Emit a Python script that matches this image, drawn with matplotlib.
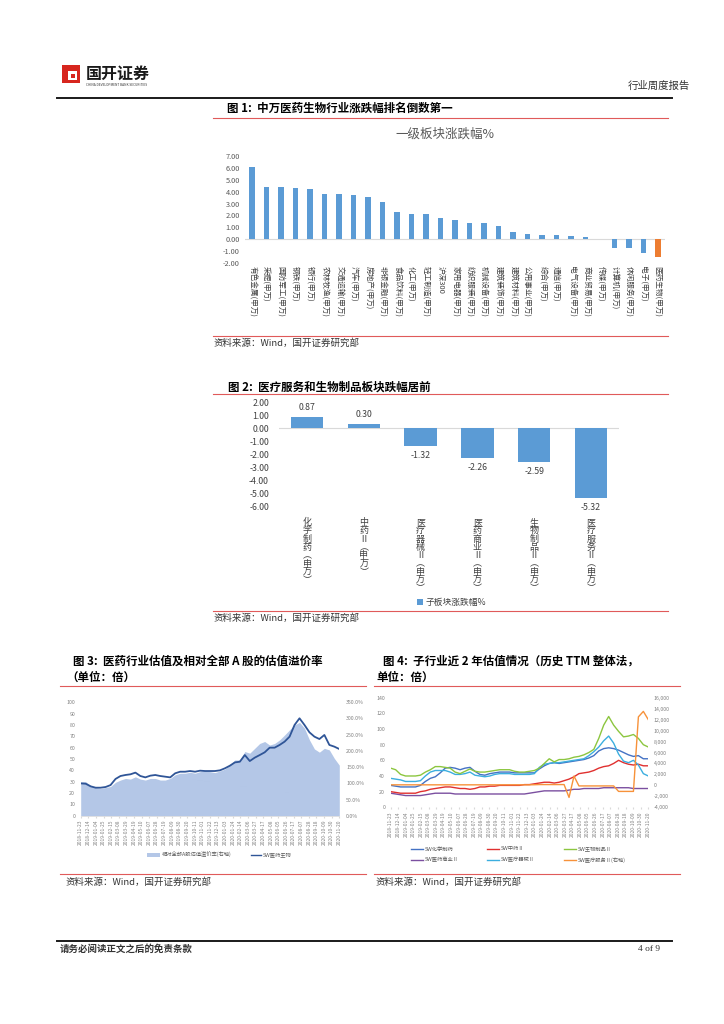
import numpy as np
import pandas as pd
import matplotlib
matplotlib.use("Agg")
import matplotlib.pyplot as plt
from matplotlib.lines import Line2D
from matplotlib.patches import Rectangle

plt.rcParams['font.family'] = ['Noto Sans CJK SC', 'DejaVu Sans']
plt.rcParams['axes.unicode_minus'] = False

W, H = 724, 1024

# ---- figure 1: level-1 sector weekly change (%)
sector_names = ["有色金属(申万)", "采掘(申万)", "国防军工(申万)", "钢铁(申万)", "银行(申万)",
                "农林牧渔(申万)", "交通运输(申万)", "汽车(申万)", "房地产(申万)", "非银金融(申万)",
                "食品饮料(申万)", "化工(申万)", "轻工制造(申万)", "沪深300", "家用电器(申万)",
                "纺织服装(申万)", "机械设备(申万)", "建筑装饰(申万)", "建筑材料(申万)", "公用事业(申万)",
                "综合(申万)", "通信(申万)", "电气设备(申万)", "商业贸易(申万)", "传媒(申万)",
                "计算机(申万)", "休闲服务(申万)", "电子(申万)", "医药生物(申万)"]
sector_chg = [6.06, 4.36, 4.36, 4.31, 4.25, 3.77, 3.77, 3.68, 3.51, 3.14,
              2.32, 2.15, 2.15, 1.78, 1.59, 1.39, 1.36, 1.13, 0.62, 0.42,
              0.37, 0.37, 0.28, 0.20, -0.02, -0.71, -0.71, -1.19, -1.47]

# ---- figure 2: pharma sub-sectors
sub_names = ["化学制药(申万)", "中药Ⅱ(申万)", "医疗器械Ⅱ(申万)", "医药商业Ⅱ(申万)",
             "生物制品Ⅱ(申万)", "医疗服务Ⅱ(申万)"]
sub_chg = [0.87, 0.30, -1.32, -2.26, -2.59, -5.32]

# ---- figure 3: pharma PE and premium vs all A shares (bi-weekly)
pe_pharma = [28.5, 28.2, 25.9, 24.7, 24.7, 25.3, 27.0, 32.4, 35.0, 35.9,
             36.5, 38.0, 35.0, 33.8, 35.3, 35.9, 35.0, 34.4, 33.8, 37.4,
             38.8, 38.8, 39.4, 38.8, 39.7, 39.4, 39.4, 39.4, 40.0, 41.8,
             44.1, 47.0, 47.6, 53.5, 48.2, 51.2, 53.5, 55.9, 60.0, 60.0,
             62.4, 65.3, 69.7, 80.0, 85.9, 80.0, 73.5, 69.7, 67.6, 71.2,
             62.4, 60.9, 58.8]
premium = [105, 105, 93, 87, 84, 87, 90, 103, 110, 115,
           113, 120, 113, 110, 115, 115, 110, 110, 115, 126,
           131, 131, 134, 131, 136, 138, 136, 133, 138, 144,
           156, 172, 172, 198, 193, 208, 223, 229, 218, 223,
           234, 249, 265, 280, 288, 270, 234, 206, 196, 208,
           203, 177, 156]

# ---- figure 4: sub-sector PE (TTM), bi-weekly
pe_chem = [28, 27, 26, 26, 26, 26, 28, 33, 37, 39, 44, 50, 51, 50, 48, 50, 51, 46, 42, 41,
           43, 44, 45, 45, 45, 44, 44, 44, 44, 44, 49, 53, 56, 57, 56, 57, 58, 59, 60, 61,
           63, 66, 72, 75, 76, 75, 73, 70, 67, 65, 66, 62, 62]
pe_tcm = [20, 19, 18, 18, 18, 18, 20, 21, 23, 24, 25, 26, 26, 25, 24, 24, 23, 24, 26, 26,
          27, 27, 28, 28, 28, 28, 28, 29, 29, 30, 31, 32, 32, 31, 32, 34, 36, 39, 43, 44,
          45, 47, 50, 52, 53, 56, 60, 57, 55, 54, 55, 53, 53]
pe_bio = [50, 48, 42, 40, 40, 40, 41, 45, 48, 52, 52, 51, 50, 45, 43, 46, 49, 46, 45, 45,
          46, 47, 48, 48, 48, 46, 45, 45, 46, 47, 50, 56, 62, 58, 61, 61, 62, 64, 65, 67,
          70, 74, 88, 105, 116, 105, 97, 90, 91, 93, 88, 80, 77]
pe_comm = [18, 17, 16, 15, 15, 15, 15, 16, 17, 18, 18, 18, 18, 17, 17, 17, 17, 17, 17, 17,
           17, 17, 17, 17, 17, 17, 17, 17, 18, 19, 20, 21, 21, 21, 21, 21, 22, 23, 23, 24,
           24, 24, 24, 25, 25, 25, 25, 25, 25, 24, 24, 24, 24]
pe_device = [37, 36, 35, 33, 33, 33, 34, 40, 45, 47, 47, 47, 45, 42, 42, 43, 45, 41, 40, 39,
             40, 42, 43, 43, 43, 42, 42, 42, 42, 43, 51, 55, 56, 57, 57, 58, 59, 60, 61, 62,
             66, 71, 77, 85, 91, 82, 68, 59, 57, 60, 54, 43, 40]
pe_service = [100, 100, 100, 100, 100, 100, 100, 100, 100, 100, 100, 100, 100, 100, 100, 100, 100, 100, 100, 100,
              100, 100, 100, 100, 100, 100, 100, 100, 100, 120, 150, 150, 150, 150, 150, 150, -2200, 1700, -100, -100,
              -100, -100, -100, -100, -100, -100, -1100, -1100, -1100, -1100, 12500, 13500, 12000]

start_date = pd.Timestamp("2018-11-23")
tick_pos = np.linspace(0, 52, 35)
tick_dates = [(start_date + pd.Timedelta(days=int(round(p * 2)) * 7)).strftime("%Y-%m-%d") for p in tick_pos]

fig = plt.figure(figsize=(W / 100, H / 100), dpi=100)


def ax_at(x0, y0, x1, y1):
    return fig.add_axes([x0 / W, 1 - y1 / H, (x1 - x0) / W, (y1 - y0) / H])


def txt(x, y, s, **kw):
    kw.setdefault("va", "center")
    return fig.text(x / W, 1 - y / H, s, **kw)


def hline(x0, x1, y, color, lw):
    fig.add_artist(Line2D([x0 / W, x1 / W], [1 - y / H, 1 - y / H], transform=fig.transFigure,
                          color=color, lw=lw))


RED = "#E05A5A"
SRC = "资料来源：Wind，国开证券研究部"

# header
fig.add_artist(Rectangle((62 / W, 1 - 83 / H), 18 / W, 18 / H, transform=fig.transFigure,
                         facecolor="#D7261E", edgecolor="none"))
fig.add_artist(Rectangle((68 / W, 1 - 80 / H), 9 / W, 9 / H, transform=fig.transFigure,
                         facecolor="white", edgecolor="none"))
fig.add_artist(Rectangle((70.5 / W, 1 - 77.5 / H), 4 / W, 4 / H, transform=fig.transFigure,
                         facecolor="#D7261E", edgecolor="none"))
txt(86, 74, "国开证券", fontsize=11.5, fontweight="bold", color="#1a1a1a")
txt(86, 85, "CHINA DEVELOPMENT BANK SECURITIES", fontsize=2.3, color="#333333")
txt(690, 86, "行业周度报告", fontsize=7.5, color="#333333", ha="right")
hline(57, 672, 97.5, "#1a1a1a", 1.4)

# ---------------- figure 1
txt(227, 108, "图 1:  中万医药生物行业涨跌幅排名倒数第一", fontsize=8.3, fontweight="bold")
hline(213, 668, 118, RED, 0.8)
txt(445, 134, "一级板块涨跌幅%", fontsize=9, color="#595959", ha="center")

ax1 = ax_at(244.75, 156, 665.25, 263)
x1 = np.arange(len(sector_names))
colors1 = ["#5B9BD5"] * (len(sector_names) - 1) + ["#ED7D31"]
ax1.bar(x1, sector_chg, width=0.36, color=colors1, zorder=3)
ax1.axhline(0, color="#d9d9d9", lw=0.8, zorder=2)
ax1.set_xlim(-0.5, len(sector_names) - 0.5)
ax1.set_ylim(-2, 7)
ax1.set_yticks(np.arange(-2, 8, 1))
ax1.set_yticklabels([f"{v:.2f}" for v in np.arange(-2, 8, 1)], fontsize=5.3, color="#595959")
ax1.set_xticks(x1)
ax1.set_xticklabels(sector_names, rotation=-90, ha="center", va="top", fontsize=5.5, color="#404040")
ax1.tick_params(length=0, axis="y", pad=3.5)
ax1.tick_params(length=0, axis="x", pad=2)
for s in ax1.spines.values():
    s.set_visible(False)
ax1.patch.set_visible(False)

hline(213, 668, 336, RED, 0.8)
txt(213, 343, SRC, fontsize=6.8, color="#333333")

# ---------------- figure 2
txt(228, 387, "图 2:  医疗服务和生物制品板块跌幅居前", fontsize=8.3, fontweight="bold")
hline(213, 668, 394, RED, 0.8)

ax2 = ax_at(278.6, 402, 619.4, 507)
x2 = np.arange(len(sub_names))
ax2.bar(x2, sub_chg, width=0.57, color="#5B9BD5", zorder=3)
ax2.axhline(0, color="#d9d9d9", lw=0.8, zorder=2)
ax2.set_xlim(-0.5, len(sub_names) - 0.5)
ax2.set_ylim(-6, 2)
ax2.set_yticks(np.arange(-6, 3, 1))
ax2.set_yticklabels([f"{v:.2f}" for v in np.arange(-6, 3, 1)], fontsize=6.3, color="#404040")
ax2.set_xticks([])
ax2.tick_params(length=0, axis="y", pad=7)
for s in ax2.spines.values():
    s.set_visible(False)
ax2.patch.set_visible(False)
for xi, v in zip(x2, sub_chg):
    off = 7 if v > 0 else -7
    ax2.annotate(f"{v:.2f}", (xi, v), xytext=(0, off), textcoords="offset points",
                 ha="center", va="center", fontsize=6.3, color="#404040")
for xi, name in zip(x2, sub_names):
    stacked = "\n".join(name.replace("(", "︵").replace(")", "︶"))
    txt(278.6 + (xi + 0.5) * 56.8, 518, stacked, fontsize=6.5, color="#404040",
        ha="center", va="top", linespacing=0.9)

fig.add_artist(Rectangle((417 / W, 1 - 605 / H), 6 / W, 6 / H, transform=fig.transFigure,
                         facecolor="#5B9BD5", edgecolor="none"))
txt(426, 602, "子板块涨跌幅%", fontsize=6.3, color="#404040")
hline(213, 668, 611, RED, 0.8)
txt(213, 618, SRC, fontsize=6.8, color="#333333")

# ---------------- figure 3
txt(73, 661, "图 3:  医药行业估值及相对全部 A 股的估值溢价率", fontsize=8.3, fontweight="bold")
txt(66, 677, "（单位：倍）", fontsize=8.3, fontweight="bold")
hline(60, 366, 686, RED, 0.8)

idx = np.arange(len(pe_pharma))
ax3 = ax_at(80.7, 702.3, 339.3, 815.7)
ax3r = ax3.twinx()
ax3r.fill_between(idx, 0, premium, color="#B4C7E7", lw=0)
ax3.plot(idx, pe_pharma, color="#2F5597", lw=1.3)
ax3.set_zorder(ax3r.get_zorder() + 1)
ax3.patch.set_visible(False)
ax3.set_xlim(0, len(idx) - 1)
ax3.set_ylim(0, 100)
ax3r.set_ylim(0, 350)
ax3.set_yticks(np.arange(0, 101, 10))
ax3.set_yticklabels([str(v) for v in range(0, 101, 10)], fontsize=3.8, color="#808080")
ax3r.set_yticks(np.arange(0, 351, 50))
ax3r.set_yticklabels([f"{v:.1f}%" for v in range(0, 351, 50)], fontsize=3.8, color="#808080")
ax3.set_xticks(tick_pos)
ax3.set_xticklabels(tick_dates, rotation=90, fontsize=3.5, color="#808080")
for a in (ax3, ax3r):
    for s in a.spines.values():
        s.set_visible(False)
ax3.spines["bottom"].set_visible(True)
ax3.spines["bottom"].set_color("#d9d9d9")
ax3.spines["bottom"].set_linewidth(0.5)
ax3.tick_params(axis="x", length=1.5, color="#d9d9d9", pad=1.5)
ax3.tick_params(axis="y", length=0, pad=4)
ax3r.tick_params(axis="y", length=0, pad=5)

fig.add_artist(Rectangle((147 / W, 1 - 857 / H), 13 / W, 4 / H, transform=fig.transFigure,
                         facecolor="#B4C7E7", edgecolor="none"))
txt(162, 855, "相对全部A股估值溢价率(右轴)", fontsize=3.8, color="#595959")
hline(251, 261, 855, "#2F5597", 1.0)
txt(263, 855, "SW医药生物", fontsize=3.8, color="#595959")

# ---------------- figure 4
txt(383, 661, "图 4:  子行业近 2 年估值情况（历史 TTM 整体法，", fontsize=8.3, fontweight="bold")
txt(376, 677, "单位：倍）", fontsize=8.3, fontweight="bold")
hline(374, 680, 686, RED, 0.8)

ax4 = ax_at(390.7, 697.7, 648.3, 807.3)
ax4r = ax4.twinx()
series4 = [(pe_chem, "#4472C4", "SW化学制药"), (pe_tcm, "#E0302F", "SW中药Ⅱ"),
           (pe_bio, "#8CC63F", "SW生物制品Ⅱ"), (pe_comm, "#7B4FA0", "SW医药商业Ⅱ"),
           (pe_device, "#3CAEDF", "SW医疗器械Ⅱ")]
for vals, c, lab in [series4[3], series4[1], series4[0], series4[4], series4[2]]:
    ax4.plot(idx, vals, color=c, lw=1.0)
ax4r.plot(idx, pe_service, color="#F7923A", lw=1.0)
ax4.set_xlim(0, len(idx) - 1)
ax4.set_ylim(0, 140)
ax4r.set_ylim(-4000, 16000)
ax4.set_yticks(np.arange(0, 141, 20))
ax4.set_yticklabels([str(v) for v in range(0, 141, 20)], fontsize=3.8, color="#808080")
ax4r.set_yticks(np.arange(-4000, 16001, 2000))
ax4r.set_yticklabels([f"{v:,}" for v in range(-4000, 16001, 2000)], fontsize=3.8, color="#808080")
ax4.set_xticks(tick_pos)
ax4.set_xticklabels(tick_dates, rotation=90, fontsize=3.5, color="#808080")
for a in (ax4, ax4r):
    for s in a.spines.values():
        s.set_visible(False)
ax4.tick_params(axis="x", length=1.5, color="#d9d9d9", pad=1.5)
ax4.tick_params(axis="y", length=0, pad=4)
ax4r.tick_params(axis="y", length=0, pad=4)

legend4 = [(series4[0][1], series4[0][2]), (series4[1][1], series4[1][2]), (series4[2][1], series4[2][2]),
           (series4[3][1], series4[3][2]), (series4[4][1], series4[4][2]), ("#F7923A", "SW医疗服务Ⅱ(右轴)")]
col_x = [411, 487, 564]
for k, (c, lab) in enumerate(legend4):
    lx = col_x[k % 3]
    ly = 849 if k < 3 else 860
    hline(lx, lx + 12, ly, c, 1.0)
    txt(lx + 14, ly, lab, fontsize=3.8, color="#595959")

hline(60, 366, 874, RED, 0.8)
hline(374, 680, 874, RED, 0.8)
txt(65, 882, SRC, fontsize=6.8, color="#333333")
txt(375, 882, SRC, fontsize=6.8, color="#333333")

# footer
hline(57, 672, 941, "#1a1a1a", 1.4)
txt(60, 949, "请务必阅读正文之后的免责条款", fontsize=6.8, fontweight="bold", color="#333333")
txt(660, 949, "4 of 9", fontsize=6.8, color="#333333", ha="right", family="Liberation Serif")

fig.savefig("out.png", dpi=100)
